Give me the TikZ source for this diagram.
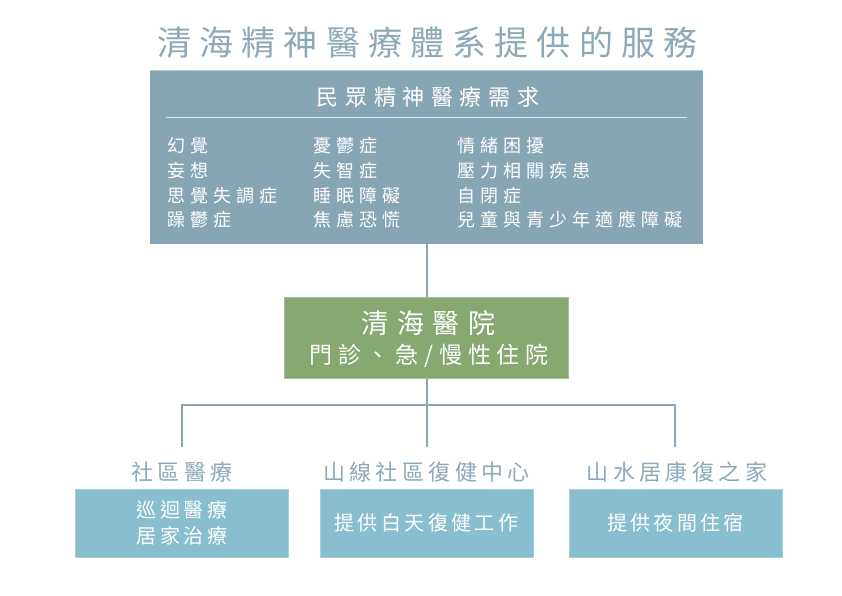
\documentclass[tikz,border=0pt]{standalone}
\usepackage{fontspec}
\newfontfamily\cjk{Noto Sans CJK TC}
\newcommand\cjkset[3]{\cjk\fontsize{#1}{#2}\selectfont\addfontfeature{LetterSpace=#3}}
\definecolor{titlec}{HTML}{8DA8B8}
\definecolor{panelc}{HTML}{87A6B5}
\definecolor{paneledge}{HTML}{B4C8D2}
\definecolor{greenc}{HTML}{86A871}
\definecolor{greenedge}{HTML}{A6C196}
\definecolor{bluec}{HTML}{88BECF}
\definecolor{blueedge}{HTML}{A4CFDC}
\definecolor{linec}{HTML}{8BA5B4}
\definecolor{sepc}{HTML}{DCE6EB}
\begin{document}
\begin{tikzpicture}[x=1pt,y=-1pt,
  panel/.style={fill=panelc,draw=none,inner sep=0,outer sep=0},
  hosp/.style={fill=greenc,draw=greenedge,line width=1pt,inner sep=0,outer sep=0,minimum width=284pt,minimum height=81pt},
  svc/.style={fill=bluec,draw=blueedge,line width=0.8pt,inner sep=0,outer sep=0,minimum width=213pt,minimum height=68pt,text=white,align=center,font=\cjkset{20}{25.5}{17}},
  txt/.style={inner sep=0,outer sep=0},
  conn/.style={draw=linec,line width=2pt},
  lbl/.style={txt,text=titlec},
  wtxt/.style={txt,text=white,align=left},
  listcol/.style={wtxt,anchor=west,font=\cjkset{18}{24.7}{28}}]
\useasboundingbox (0,0) rectangle (842,595);
% title
\node[lbl,font=\cjkset{34}{40}{24}] (title) at (427.5,43) {清海精神醫療體系提供的服務};
% needs panel
\node[panel,minimum width=553pt,minimum height=174pt] (needs) at (426.5,157) {};
\draw[paneledge,line width=1pt] (needs.north west) -- (needs.north east);
\node[wtxt,font=\cjkset{22}{26}{30}] (needhead) at (428,97) {民眾精神醫療需求};
\coordinate (sepl) at (166,117.5);
\coordinate (sepr) at (687,117.5);
\draw[sepc,line width=1.2pt] (sepl) -- (sepr);
\node[listcol] (colA) at (167,183) {幻覺\\妄想\\思覺失調症\\躁鬱症};
\node[listcol] (colB) at (313,183) {憂鬱症\\失智症\\睡眠障礙\\焦慮恐慌};
\node[listcol] (colC) at (457.5,183) {情緒困擾\\壓力相關疾患\\自閉症\\兒童與青少年適應障礙};
% hospital
\node[hosp] (hospital) at (426.3,338) {};
\node[txt,text=white,font=\cjkset{27}{30}{33}] (hname) at (428.5,323) {清海醫院};
\node[txt,text=white,font=\cjkset{23}{26}{25}] (hsvc) at (429,356) {門診、急/慢性住院};
% services
\node[svc] (s1) at (182,523) {巡迴醫療\\居家治療};
\node[svc] (s2) at (426.5,523) {提供白天復健工作};
\node[svc] (s3) at (675.5,523) {提供夜間住宿};
\node[lbl,font=\cjkset{22}{26}{20}] (l1) at (182,472) {社區醫療};
\node[lbl,font=\cjkset{22}{26}{20}] (l2) at (426.5,472) {山線社區復健中心};
\node[lbl,font=\cjkset{22}{26}{20}] (l3) at (677,472) {山水居康復之家};
% connectors
\coordinate (e1) at (182,447);
\coordinate (e2) at (427,447);
\coordinate (e3) at (675,447);
\coordinate (topc) at (427,244);
\coordinate (hosptop) at (427,297);
\coordinate (hospbot) at (427,379);
\draw[conn] (topc) -- (hosptop);
\draw[conn] (hospbot) -- (e2);
\draw[conn] (e1) -- ++(0,-42) -| (e3);
\end{tikzpicture}
\end{document}
